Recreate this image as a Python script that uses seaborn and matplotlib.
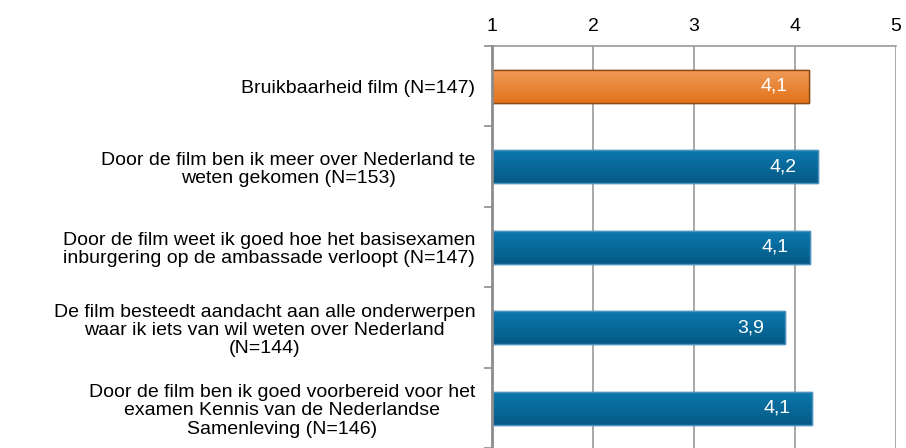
import matplotlib
matplotlib.use("Agg")
import matplotlib.pyplot as plt
import matplotlib.colors as mcolors
import seaborn as sns
import pandas as pd
import numpy as np

categories = [
    "Bruikbaarheid film (N=147)",
    "Door de film ben ik meer over Nederland te\nweten gekomen (N=153)",
    "Door de film weet ik goed hoe het basisexamen\ninburgering op de ambassade verloopt (N=147)",
    "De film besteedt aandacht aan alle onderwerpen\nwaar ik iets van wil weten over Nederland\n(N=144)",
    "Door de film ben ik goed voorbereid voor het\nexamen Kennis van de Nederlandse\nSamenleving (N=146)",
]
values = [4.14, 4.23, 4.15, 3.90, 4.17]
value_labels = ["4,1", "4,2", "4,1", "3,9", "4,1"]
x_ticks = [1, 2, 3, 4, 5]

sns.set_theme(style="white")
plt.rcParams['font.family'] = ['Liberation Sans', 'DejaVu Sans']
plt.rcParams['text.color'] = 'black'
plt.rcParams['xtick.color'] = 'black'
plt.rcParams['ytick.color'] = 'black'

df = pd.DataFrame({"cat": categories, "val": values})

fig = plt.figure(figsize=(9.06, 4.48), dpi=100)
ax = fig.add_axes([492/906, -2/448, (896-492)/906, (449-47+2)/448])

sns.barplot(data=df, y="cat", x="val", ax=ax, orient="h", width=0.41,
            palette=["#EA8A42", "#0A689B", "#0A689B", "#0A689B", "#0A689B"],
            hue="cat", legend=False, saturation=1)

edges = ["#8A4A14", "#4D92BF", "#4D92BF", "#4D92BF", "#4D92BF"]
grads = [("#EE9A58", "#E3731A")] + [("#0B79AE", "#065985")] * 4

xmin, xmax = 1, 5
ax.set_xlim(xmin, xmax)
ax.set_ylim(len(categories) - 0.5 + 0.02, -0.5)

for p, ec, (c_top, c_bot) in zip(list(ax.patches), edges, grads):
    p.set_edgecolor(ec)
    p.set_linewidth(1.0)
    x0, y0 = p.get_x(), p.get_y()
    w, h = p.get_width(), p.get_height()
    xs = max(x0, xmin)
    cmap = mcolors.LinearSegmentedColormap.from_list("g", [c_top, c_bot])
    grad = np.linspace(0, 1, 64).reshape(-1, 1)
    ax.imshow(grad, cmap=cmap, aspect="auto", origin="upper",
              extent=[xs, x0 + w, y0 + h, y0], zorder=p.get_zorder() + 0.1)
    ax.add_patch(plt.Rectangle((xs, y0), x0 + w - xs, h, fill=False, edgecolor=ec,
                               linewidth=1.0, zorder=p.get_zorder() + 0.2))

ax.set_xlim(xmin, xmax)
ax.set_ylim(len(categories) - 0.5 + 0.02, -0.5)
ax.set_aspect("auto")
ax.set_xticks(x_ticks)
ax.set_xticklabels([str(t) for t in x_ticks])
ax.xaxis.tick_top()
ax.tick_params(axis="x", length=0, pad=8, labelsize=14, labelcolor="black")
ax.set_xlabel("")
ax.set_ylabel("")

ax.set_yticks(range(len(categories)))
ax.set_yticklabels(categories, fontsize=14, multialignment="center", linespacing=1.1,
                   color="black")
ax.tick_params(axis="y", which="major", length=0, pad=12)
ax.set_yticks(np.arange(-0.5, len(categories), 1.0), minor=True)
ax.tick_params(axis="y", which="minor", length=6, width=1.2, color="#8C8C8C", left=True)

ax.grid(axis="x", color="#999999", linewidth=1.2)
ax.set_axisbelow(True)
for s in ["right", "bottom"]:
    ax.spines[s].set_visible(False)
ax.spines["top"].set_color("#999999")
ax.spines["top"].set_linewidth(1.2)
ax.spines["left"].set_color("#8C8C8C")
ax.spines["left"].set_linewidth(2)
ax.spines["left"].set_zorder(5)

for i, (v, lab) in enumerate(zip(values, value_labels)):
    ax.text(v - 0.21, i, lab, color="white", ha="right", va="center", fontsize=14,
            zorder=10)

fig.savefig("out.png", dpi=100)
